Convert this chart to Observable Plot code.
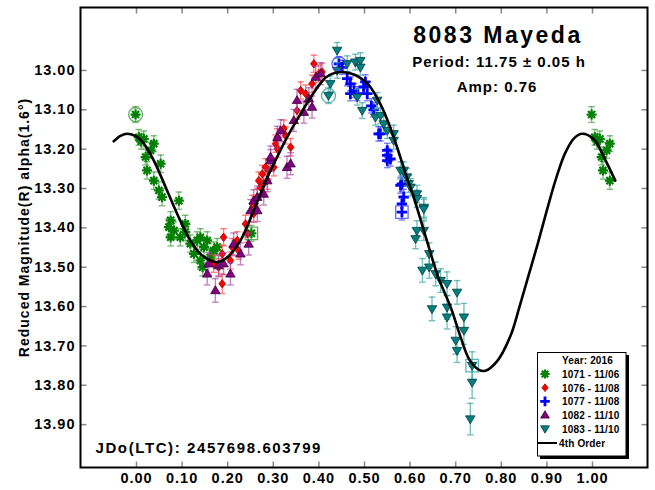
<!DOCTYPE html>
<html><head><meta charset="utf-8">
<script src="https://cdn.jsdelivr.net/npm/d3@7"></script>
<script src="https://cdn.jsdelivr.net/npm/@observablehq/plot@0.6"></script>
<style>
html,body{margin:0;padding:0;background:#fff;}
#wrap{position:relative;width:655px;height:490px;font-family:"Liberation Sans",Arial,sans-serif;}
#legend{position:absolute;left:0;top:0;pointer-events:none;}
</style></head><body><div id="wrap"></div>
<script>
// ---- data: [phase, reduced magnitude, error] ----
const s1071 = [
 [-0.002,13.112,0.02],[0.005,13.170,0.02],[0.010,13.180,0.02],[0.016,13.174,0.02],[0.020,13.220,0.02],
 [0.023,13.254,0.022],[0.031,13.203,0.02],[0.038,13.186,0.02],[0.038,13.280,0.022],[0.049,13.305,0.022],
 [0.053,13.237,0.022],[0.056,13.322,0.022],[0.071,13.398,0.022],[0.075,13.381,0.022],[0.075,13.424,0.022],
 [0.082,13.407,0.022],[0.093,13.331,0.022],[0.096,13.424,0.022],[0.107,13.390,0.022],[0.107,13.411,0.022],
 [0.118,13.440,0.022],[0.126,13.466,0.022],[0.133,13.432,0.022],[0.140,13.424,0.022],[0.140,13.483,0.022],
 [0.145,13.500,0.022],[0.148,13.449,0.022],[0.155,13.432,0.022],[0.162,13.475,0.022],[0.169,13.458,0.022],
 [0.177,13.449,0.022],[0.252,13.414,0.02]
];
const s1076 = [
 [0.169,13.491,0.022],[0.180,13.500,0.022],[0.188,13.466,0.022],[0.188,13.542,0.025],[0.191,13.424,0.022],
 [0.206,13.483,0.022],[0.210,13.449,0.022],[0.221,13.432,0.022],[0.224,13.458,0.022],[0.239,13.390,0.022],
 [0.243,13.415,0.022],[0.254,13.339,0.022],[0.257,13.364,0.022],[0.265,13.322,0.022],[0.268,13.280,0.022],
 [0.272,13.297,0.022],[0.276,13.263,0.022],[0.279,13.288,0.022],[0.283,13.246,0.022],[0.287,13.280,0.022],
 [0.290,13.254,0.022],[0.301,13.246,0.022],[0.305,13.186,0.022],[0.309,13.170,0.022],[0.309,13.199,0.022],
 [0.323,13.148,0.022],[0.327,13.165,0.022],[0.338,13.195,0.022],[0.352,13.102,0.022],[0.360,13.051,0.022],
 [0.371,13.059,0.022],[0.385,13.034,0.022],[0.389,12.983,0.022],[0.400,13.008,0.022],[0.407,13.004,0.022]
];
const s1077 = [
 [0.444,12.983,0.018],[0.451,12.992,0.018],[0.462,13.021,0.018],[0.469,13.034,0.018],[0.469,13.059,0.018],
 [0.477,13.051,0.018],[0.484,13.059,0.018],[0.498,13.042,0.018],[0.502,13.029,0.018],[0.506,13.059,0.018],
 [0.515,13.090,0.018],[0.520,13.100,0.018],[0.531,13.161,0.018],[0.535,13.161,0.018],[0.550,13.203,0.018],
 [0.550,13.216,0.018],[0.550,13.229,0.018],[0.557,13.225,0.018],[0.579,13.292,0.02],[0.582,13.288,0.02],
 [0.586,13.322,0.02],[0.582,13.339,0.02],[0.582,13.360,0.02]
];
const s1082 = [
 [0.155,13.517,0.028],[0.158,13.491,0.028],[0.173,13.559,0.03],[0.180,13.496,0.028],[0.191,13.491,0.028],
 [0.206,13.517,0.028],[0.213,13.441,0.028],[0.228,13.466,0.028],[0.246,13.441,0.028],[0.250,13.356,0.028],
 [0.257,13.331,0.028],[0.265,13.356,0.028],[0.265,13.322,0.028],[0.279,13.314,0.028],[0.287,13.280,0.028],
 [0.294,13.229,0.028],[0.294,13.220,0.028],[0.309,13.170,0.028],[0.316,13.153,0.028],[0.330,13.246,0.028],
 [0.338,13.237,0.028],[0.345,13.127,0.028],[0.352,13.076,0.028],[0.367,13.106,0.028],[0.378,13.072,0.028],
 [0.385,13.093,0.028],[0.393,13.017,0.028],[0.404,13.008,0.028]
];
const s1083 = [
 [0.421,13.064,0.02],[0.425,13.034,0.02],[0.440,12.949,0.02],[0.440,13.000,0.02],[0.462,12.983,0.02],
 [0.480,12.979,0.02],[0.491,12.975,0.02],[0.491,12.992,0.02],[0.484,13.068,0.02],[0.495,13.102,0.02],
 [0.524,13.119,0.02],[0.528,13.076,0.02],[0.535,13.115,0.02],[0.542,13.136,0.02],[0.550,13.153,0.02],
 [0.564,13.161,0.022],[0.564,13.178,0.022],[0.579,13.254,0.022],[0.586,13.254,0.022],[0.593,13.271,0.022],
 [0.597,13.288,0.022],[0.601,13.297,0.022],[0.615,13.314,0.022],[0.615,13.326,0.022],[0.630,13.348,0.025],
 [0.630,13.352,0.025],[0.615,13.407,0.025],[0.630,13.407,0.025],[0.612,13.428,0.025],[0.642,13.466,0.028],
 [0.627,13.508,0.03],[0.642,13.500,0.028],[0.656,13.517,0.03],[0.667,13.534,0.03],[0.681,13.542,0.03],
 [0.703,13.564,0.03],[0.648,13.606,0.03],[0.681,13.602,0.03],[0.681,13.627,0.03],[0.718,13.627,0.035],
 [0.718,13.661,0.035],[0.700,13.686,0.035],[0.703,13.712,0.03],[0.736,13.750,0.035],[0.736,13.793,0.04],
 [0.732,13.886,0.04]
];
// marked points: [phase, mag, session]
const circledPts = [[-0.002,13.112,"1071"],[0.421,13.064,"1083"],[0.444,12.983,"1077"]];
const boxedPts = [[0.252,13.414,"1071"],[0.582,13.360,"1077"],[0.736,13.750,"1083"]];
// 4th order fit curve: [phase, mag]
const fitCurve = [
 [-0.05,13.180],[-0.035,13.166],[-0.02,13.161],[0.0,13.168],[0.016,13.186],[0.038,13.229],[0.067,13.305],
 [0.089,13.364],[0.118,13.432],[0.140,13.466],[0.162,13.483],[0.177,13.487],[0.199,13.475],[0.228,13.432],
 [0.257,13.356],[0.287,13.271],[0.30,13.240],[0.33,13.170],[0.36,13.110],[0.38,13.072],[0.40,13.038],
 [0.415,13.018],[0.43,13.008],[0.45,13.004],[0.47,13.008],[0.49,13.018],[0.51,13.038],[0.53,13.075],
 [0.55,13.125],[0.57,13.190],[0.59,13.262],[0.61,13.330],[0.64,13.445],[0.66,13.520],[0.69,13.605],
 [0.71,13.675],[0.73,13.735],[0.75,13.760],[0.765,13.763],[0.79,13.740],[0.82,13.675],[0.84,13.600],
 [0.86,13.520],[0.88,13.440],[0.90,13.355],[0.92,13.275],[0.94,13.210],[0.96,13.172],[0.977,13.161],
 [1.003,13.175],[1.025,13.220],[1.05,13.280]
];
const xTicks = [0,0.1,0.2,0.3,0.4,0.5,0.6,0.7,0.8,0.9,1.0];
const yTicks = [13.0,13.1,13.2,13.3,13.4,13.5,13.6,13.7,13.8,13.9];
const sessions = ["1071","1076","1077","1082","1083"];
const legendLabels = ["1071 - 11/06","1076 - 11/08","1077 - 11/08","1082 - 11/10","1083 - 11/10"];
const legendTitle = "Year: 2016";
const fitLabel = "4th Order";
const titleText = "8083 Mayeda";
const periodText = "Period: 11.75 \u00b1 0.05 h";
const ampText = "Amp: 0.76";
const jdText = "JDo(LTC): 2457698.603799";
const yLabel = "Reduced Magnitude(R) alpha(1.6\u00b0)";

// ---- symbols ----
const rad = s => Math.sqrt(s/Math.PI);
const symAst = {draw(c,s){const r=rad(s);for(let k=0;k<4;k++){const a=k*Math.PI/4;c.moveTo(-r*Math.cos(a),-r*Math.sin(a));c.lineTo(r*Math.cos(a),r*Math.sin(a));}}};
const symPlus = {draw(c,s){const r=rad(s);c.moveTo(-r,0);c.lineTo(r,0);c.moveTo(0,-r);c.lineTo(0,r);}};
const symDia = {draw(c,s){const r=rad(s);c.moveTo(0,-r);c.lineTo(r*0.8,0);c.lineTo(0,r);c.lineTo(-r*0.8,0);c.closePath();}};
const symUp = {draw(c,s){const r=rad(s);c.moveTo(-r*1.1,r*0.75);c.lineTo(r*1.1,r*0.75);c.lineTo(0,-r*1.1);c.closePath();}};
const symDown = {draw(c,s){const r=rad(s);c.moveTo(-r*1.1,-r*0.75);c.lineTo(r*1.1,-r*0.75);c.lineTo(0,r*1.1);c.closePath();}};
const symCap = {draw(c,s){const r=rad(s);c.moveTo(-r,0);c.lineTo(r,0);}};
const tickUp = {draw(c){c.moveTo(0,0);c.lineTo(0,-6);}};
const tickDown = {draw(c){c.moveTo(0,0);c.lineTo(0,6);}};
const tickRight = {draw(c){c.moveTo(0,0);c.lineTo(6,0);}};
const tickLeft = {draw(c){c.moveTo(0,0);c.lineTo(-6,0);}};

const style = {
 "1071": {sym: symAst, r: 5, fill: "none", stroke: "#008000", sw: 2.2, err: "#3a9a3a"},
 "1076": {sym: symDia, r: 4.2, fill: "#ff0000", stroke: "#a00000", sw: 0.8, err: "#ff4040"},
 "1077": {sym: symPlus, r: 5.2, fill: "none", stroke: "#0000ff", sw: 2.8, err: "#4040ff"},
 "1082": {sym: symUp, r: 4.3, fill: "#800080", stroke: "#3a003a", sw: 0.8, err: "#a040a0"},
 "1083": {sym: symDown, r: 4.3, fill: "#008080", stroke: "#003c3c", sw: 0.8, err: "#30a0a0"}
};

const rows = a => a.map(([phase, mag, err]) => ({phase, mag, err}));
const dataBy = {
 "1071": rows(s1071).concat(rows(s1071).filter(d => d.phase < 0.045).map(d => ({...d, phase: d.phase + 1}))),
 "1076": rows(s1076), "1077": rows(s1077), "1082": rows(s1082), "1083": rows(s1083)
};

function seriesMarks(key){
 const d = dataBy[key], st = style[key];
 return [
  Plot.ruleX(d, {x: "phase", y1: v => v.mag - v.err, y2: v => v.mag + v.err, stroke: st.err, strokeWidth: 1.4, strokeOpacity: 0.65}),
  Plot.dot(d, {x: "phase", y: v => v.mag - v.err, symbol: symCap, r: 3.3, fill: "none", stroke: st.err, strokeWidth: 1.4, strokeOpacity: 0.65}),
  Plot.dot(d, {x: "phase", y: v => v.mag + v.err, symbol: symCap, r: 3.3, fill: "none", stroke: st.err, strokeWidth: 1.4, strokeOpacity: 0.65}),
  Plot.dot(d, {x: "phase", y: "mag", symbol: st.sym, r: st.r, fill: st.fill, stroke: st.stroke, strokeWidth: st.sw})
 ];
}

const font = '"Liberation Sans", Arial, sans-serif';
const chart = Plot.plot({
 width: 655, height: 490,
 marginLeft: 80, marginRight: 8, marginTop: 7, marginBottom: 23,
 style: {fontFamily: font, fontWeight: "bold", fontSize: "14.5px", letterSpacing: "1px", color: "#000", background: "#fff"},
 x: {domain: [-0.1228, 1.1206], axis: null},
 y: {domain: [12.84, 14.009], reverse: true, axis: null},
 marks: [
  ...sessions.flatMap(seriesMarks),
  Plot.dot(circledPts, {x: d => d[0], y: d => d[1], symbol: "circle", r: 7, fill: "none", stroke: d => style[d[2]].err, strokeWidth: 1.3, strokeOpacity: 0.8}),
  Plot.dot(boxedPts, {x: d => d[0], y: d => d[1], symbol: "square", r: 7, fill: "none", stroke: d => style[d[2]].err, strokeWidth: 1.3, strokeOpacity: 0.8}),
  Plot.line(fitCurve, {x: d => d[0], y: d => d[1], curve: "catmull-rom", stroke: "#000", strokeWidth: 2.6}),
  // inward ticks on all four sides
  Plot.dot(xTicks, {x: d => d, frameAnchor: "bottom", symbol: tickUp, stroke: "#888", strokeWidth: 1.5}),
  Plot.dot(xTicks, {x: d => d, frameAnchor: "top", symbol: tickDown, stroke: "#888", strokeWidth: 1.5}),
  Plot.dot(yTicks, {y: d => d, frameAnchor: "left", symbol: tickRight, stroke: "#888", strokeWidth: 1.5}),
  Plot.dot(yTicks, {y: d => d, frameAnchor: "right", symbol: tickLeft, stroke: "#888", strokeWidth: 1.5}),
  Plot.axisX(xTicks, {anchor: "bottom", tickSize: 0, tickPadding: 5, tickFormat: d => d.toFixed(2), label: null, fontSize: 14.5}),
  Plot.axisY(yTicks, {anchor: "left", tickSize: 0, tickPadding: 5, tickFormat: d => d.toFixed(2), label: null, fontSize: 14.5}),
  Plot.frame({stroke: "#000", strokeWidth: 2}),
  Plot.text([yLabel], {text: d => d, frameAnchor: "left", textAnchor: "middle", rotate: -90, dx: -56, dy: -10, fontSize: 14, fontWeight: "bold", lineAnchor: "middle"}),
  Plot.text([titleText], {text: d => d, frameAnchor: "top", dx: 134, dy: 28, fontSize: 23, fontWeight: "bold", lineAnchor: "middle"}),
  Plot.text([periodText], {text: d => d, frameAnchor: "top", dx: 135, dy: 54.5, fontSize: 15, fontWeight: "bold", lineAnchor: "middle"}),
  Plot.text([ampText], {text: d => d, frameAnchor: "top", dx: 133, dy: 80, fontSize: 15, fontWeight: "bold", lineAnchor: "middle"}),
  Plot.text([jdText], {text: d => d, frameAnchor: "bottom-left", textAnchor: "start", dx: 15, dy: -19, fontSize: 15, fontWeight: "bold", lineAnchor: "middle"})
 ]
});
const wrap = document.getElementById("wrap");
wrap.appendChild(chart);
const svgSel = d3.select(chart);
svgSel.selectAll("text").filter(function(){ return this.textContent === titleText; }).style("letter-spacing", "2.5px");
svgSel.selectAll("text").filter(function(){ return this.textContent === jdText; }).style("letter-spacing", "1.6px");

// ---- legend (inside plot area) ----
const lg = d3.select(wrap).append("svg").attr("id", "legend").attr("width", 655).attr("height", 490)
 .style("font-family", font).style("font-weight", "bold").style("font-size", "10px").style("letter-spacing", "0.15px");
lg.append("rect").attr("x", 540).attr("y", 355).attr("width", 89).attr("height", 104).attr("fill", "#000");
lg.append("rect").attr("x", 537.5).attr("y", 352.5).attr("width", 88.5).attr("height", 103.5).attr("fill", "#fff").attr("stroke", "#000").attr("stroke-width", 1);
lg.append("text").attr("x", 562).attr("y", 364).text(legendTitle);
sessions.forEach((k, i) => {
 const yb = 378 + i * 13.7, st = style[k];
 lg.append("path").attr("transform", `translate(545,${yb - 4})`)
  .attr("d", d3.symbol().type(st.sym).size(Math.PI * st.r * st.r * 0.85)())
  .attr("fill", st.fill).attr("stroke", st.stroke).attr("stroke-width", st.sw);
 lg.append("text").attr("x", 562).attr("y", yb).text(legendLabels[i]);
});
lg.append("line").attr("x1", 538).attr("x2", 557).attr("y1", 443).attr("y2", 443).attr("stroke", "#000").attr("stroke-width", 2);
lg.append("text").attr("x", 559).attr("y", 446.5).text(fitLabel);
</script></body></html>
